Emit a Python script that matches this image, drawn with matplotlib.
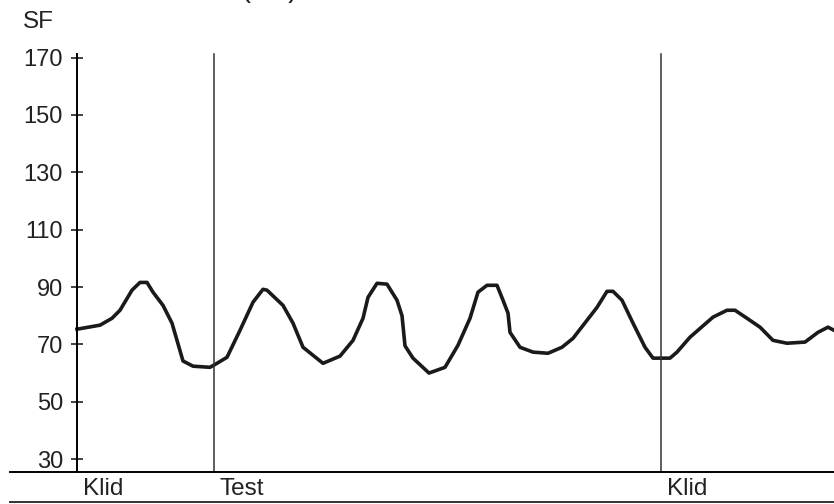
import matplotlib.pyplot as plt
from matplotlib.lines import Line2D

plt.rcParams["font.family"] = ["Liberation Sans", "DejaVu Sans"]

# time (arbitrary units) and heart rate (SF)
time = [0, 2.3, 3.5, 4.3, 5.5, 6.3, 7.0, 7.6, 8.6, 9.5, 10.6, 11.6, 13.3, 14.0,
        15.0, 16.3, 17.6, 18.6, 19.0, 20.6, 21.6, 22.6, 24.6, 26.3, 27.6, 28.6,
        29.1, 30.0, 31.0, 32.0, 32.5, 32.8, 33.6, 35.2, 36.8, 38.1, 39.3, 40.1,
        41.0, 42.0, 42.6, 43.1, 43.3, 44.3, 45.6, 47.1, 48.5, 49.6, 51.0, 52.0,
        53.0, 53.6, 54.5, 55.6, 56.8, 57.6, 59.3, 60.0, 61.3, 63.6, 65.0, 65.8,
        67.0, 68.3, 69.6, 71.0, 72.8, 74.1, 75.1, 75.7]
sf = [75.3, 76.7, 79.1, 81.9, 88.9, 91.6, 91.6, 88.2, 83.6, 77.4, 64.2, 62.4,
      62.0, 63.4, 65.5, 74.9, 84.7, 89.2, 88.9, 83.6, 77.4, 69.0, 63.4, 65.9,
      71.4, 79.1, 86.4, 91.3, 91.0, 85.4, 80.0, 69.5, 65.2, 60.0, 62.0, 69.7,
      79.1, 88.2, 90.6, 90.6, 85.4, 80.9, 74.2, 69.0, 67.3, 66.9, 69.0, 72.1,
      78.4, 82.9, 88.5, 88.5, 85.4, 77.4, 69.0, 65.2, 65.2, 67.3, 72.5, 79.5,
      81.9, 81.9, 79.1, 76.0, 71.4, 70.4, 70.8, 74.2, 76.0, 74.9]

phase_starts = [0, 13.7, 58.4]
phase_labels = ["Klid", "Test", "Klid"]
yticks = [30, 50, 70, 90, 110, 130, 150, 170]

fig = plt.figure(figsize=(8.34, 5.04), dpi=100)
ax = fig.add_axes([10 / 834, 32 / 504, 824 / 834, 419 / 504])

ax.plot(time, sf, color="#1a1a1a", lw=2.6, solid_joinstyle="round")

for t in phase_starts[1:]:
    ax.axvline(t, ymax=(171.4 - 25.5) / (171.6 - 25.5), color="#333333", lw=1.1)

ax.set_xlim(-6.7, 75.7)
ax.set_ylim(25.5, 171.6)

ax.spines["left"].set_position(("data", 0))
ax.spines["left"].set_bounds(25.5, 171.4)
ax.spines["left"].set_linewidth(1.4)
ax.spines["bottom"].set_linewidth(1.4)
ax.spines["top"].set_visible(False)
ax.spines["right"].set_visible(False)
ax.set_xticks([])
ax.set_yticks(yticks)
ax.tick_params(axis="y", direction="inout", length=8, width=1.2, pad=6,
               labelsize=17, colors="#222222")

for t, lab in zip(phase_starts, phase_labels):
    ax.annotate(lab, xy=(t, 25.5), xytext=(4, -4), textcoords="offset points",
                ha="left", va="top", fontsize=17.5, color="#222222")

fig.add_artist(Line2D([10 / 834, 1], [2 / 504, 2 / 504], color="#333333", lw=1.4))

fig.text(23 / 834, 1 - 28 / 504, "SF", fontsize=17.5, color="#222222")
# title cut off by the top edge, as in the source picture
fig.text(-2 / 834, 1 + 3 / 504, "Srdeční frekvence (SF)", fontsize=21,
         color="#222222", va="baseline")

fig.savefig("out.png", dpi=100, facecolor="white")
